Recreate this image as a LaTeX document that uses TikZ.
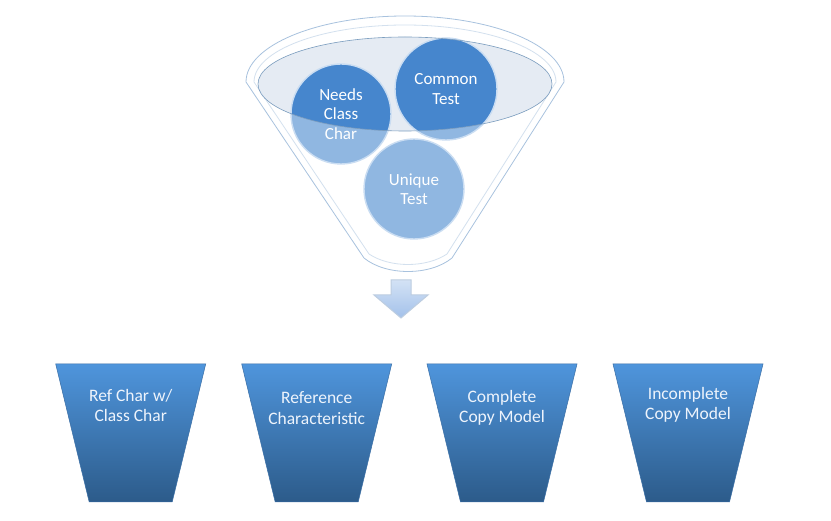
\documentclass[tikz,border=0pt]{standalone}
\usepackage{fontspec}
\setmainfont{Carlito}
\definecolor{trapTop}{HTML}{4F95DC}
\definecolor{trapBot}{HTML}{2C5B8A}
\definecolor{trapEdge}{HTML}{3A6EA5}
\definecolor{circLight}{HTML}{90B7E1}
\definecolor{circDark}{HTML}{4686CD}
\definecolor{circEdge}{HTML}{CADDF2}
\definecolor{liquidFill}{HTML}{DFE7F1}
\definecolor{liquidEdge}{HTML}{7A9CBE}
\definecolor{funnelLine}{HTML}{A8C2DE}
\definecolor{arrowTop}{HTML}{D3E2F5}
\definecolor{arrowBot}{HTML}{A3C1EA}
\definecolor{arrowEdge}{HTML}{BDCDE0}
\definecolor{txtLight}{HTML}{EEF4FC}
\tikzset{
  labeltext/.style={text=txtLight, align=center, font=\fontsize{17.5}{20.5}\selectfont, inner sep=0pt},
  bubbletext/.style={circle, minimum size=100pt, inner sep=0pt, text=white, align=center,
     font=\fontsize{17}{19.5}\selectfont, draw=circEdge, line width=1.4pt},
  trapshape/.style={top color=trapTop, bottom color=trapBot, draw=trapEdge, line width=0.5pt},
  funnelstroke/.style={draw=funnelLine, line width=0.8pt},
}
\begin{document}
\begin{tikzpicture}[x=1pt,y=1pt]
\useasboundingbox (0,0) rectangle (831,-521);
\fill[white] (0,0) rectangle (831,-521);

% funnel outlines
\path[funnelstroke, fill=white] (246,-82) arc[start angle=180, end angle=0, x radius=159, y radius=66]
  -- (452,-258) .. controls (430,-276) and (386,-276) .. (364,-258) -- cycle;
\path[funnelstroke, draw opacity=0.5] (254,-82) arc[start angle=180, end angle=0, x radius=151, y radius=57]
  -- (447,-254) .. controls (426,-268) and (390,-268) .. (369,-254) -- cycle;

% circles light
\fill[circLight] (341,-114) circle (50);
\fill[circLight] (446,-89) circle (51);
\fill[circLight] (414,-189) circle (50);

% liquid surface
\fill[liquidFill, fill opacity=0.8] (405,-84) ellipse[x radius=147, y radius=47];
\begin{scope}
  \clip (405,-84) ellipse[x radius=147, y radius=47];
  \fill[circDark] (341,-114) circle (50);
  \fill[circDark] (446,-89) circle (51);
  \fill[circDark] (414,-189) circle (50);
\end{scope}

% bubble nodes
\node[bubbletext] (needs) at (341,-114) {Needs\\Class\\Char};
\node[bubbletext, minimum size=102pt] (common) at (446,-89) {Common\\Test};
\node[bubbletext] (unique) at (414,-189) {Unique\\Test};

\draw[liquidEdge, line width=0.6pt] (405,-84) ellipse[x radius=147, y radius=47];

% down arrow
\shade[top color=arrowTop, bottom color=arrowBot, draw=arrowEdge, line width=1pt]
  (391,-280) -- (411,-280) -- (411,-295) -- (428,-295) -- (401,-318) -- (374,-295) -- (391,-295) -- cycle;

% trapezoids
\foreach \cx/\nm in {130.7/a, 316.7/b, 502/c, 688/d}{
  \path[trapshape] (\cx-75,-364) -- (\cx+75,-364) -- (\cx+41.5,-502) -- (\cx-41.5,-502) -- cycle;
}
\node[labeltext] (ta) at (130.7,-405.5) {Ref Char w/\\Class Char};
\node[labeltext] (tb) at (316.7,-408) {Reference\\Characteristic};
\node[labeltext] (tc) at (502,-408) {Complete\\Copy Model};
\node[labeltext] (td) at (688,-405) {Incomplete\\Copy Model};
\end{tikzpicture}
\end{document}
